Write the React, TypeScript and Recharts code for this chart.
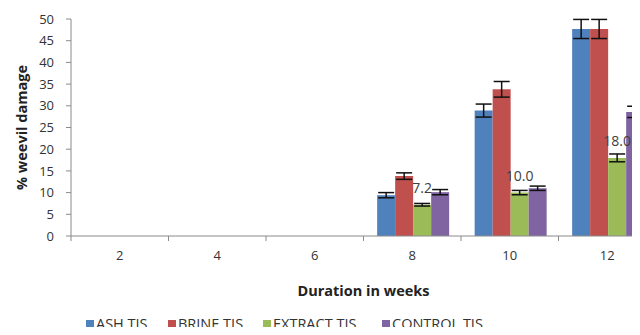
import React from 'react';
import { BarChart, Bar, XAxis, YAxis, ErrorBar, LabelList, Legend } from 'recharts';

const weeks = ['2', '4', '6', '8', '10', '12'];
const ash = [null, null, null, 9.4, 28.9, 47.7];
const brine = [null, null, null, 13.8, 33.8, 47.7];
const extract = [null, null, null, 7.2, 10.0, 18.0];
const control = [null, null, null, 10.1, 11.0, 28.6];
const ashErr = [0, 0, 0, 0.6, 1.5, 2.2];
const brineErr = [0, 0, 0, 0.75, 1.8, 2.2];
const extractErr = [0, 0, 0, 0.3, 0.5, 0.9];
const controlErr = [0, 0, 0, 0.6, 0.5, 1.3];
const yTicks = [0, 5, 10, 15, 20, 25, 30, 35, 40, 45, 50];

const series = [
  { key: 'ash', name: 'ASH TIS', color: '#4F81BD' },
  { key: 'brine', name: 'BRINE TIS', color: '#C0504D' },
  { key: 'extract', name: 'EXTRACT TIS', color: '#9BBB59' },
  { key: 'control', name: 'CONTROL TIS', color: '#8064A2' },
];

const data = weeks.map((w, i) => ({
  week: w,
  ash: ash[i], ashErr: ashErr[i],
  brine: brine[i], brineErr: brineErr[i],
  extract: extract[i], extractErr: extractErr[i],
  control: control[i], controlErr: controlErr[i],
}));

const FONT = '"Open Sans", "Liberation Sans", sans-serif';
const BAND = 97.5;

const WeekTick = (props: any) => {
  const { x, y, payload } = props;
  return (
    <g>
      <line x1={x - BAND / 2} x2={x - BAND / 2} y1={y - 8} y2={y - 3} stroke="#8a8a8a" />
      <text x={x} y={y + 16} textAnchor="middle" fontSize={13} fill="#333" fontFamily={FONT}>
        {payload.value}
      </text>
    </g>
  );
};

// extract values are labelled from the last (control) bar so the text sits above every bar;
// the green bar's top comes from the purple bar's own geometry
const ExtractLabel = (props: any) => {
  const { x, y, width, height, value } = props;
  if (value == null) return null;
  const i = control.indexOf(value);
  const e = i >= 0 ? extract[i] : null;
  if (e == null) return null;
  const base = y + height;
  const top = base - (height * e) / value;
  return (
    <text x={x - width / 2} y={top - 12} textAnchor="middle" fontSize={14} fill="#404040" fontFamily={FONT}>
      {e.toFixed(1)}
    </text>
  );
};

const legendLeft = [86, 168, 263, 382];

const LegendBox = () => (
  <div style={{ position: 'relative', width: 640, height: 30, fontFamily: FONT, fontSize: 14.5, color: '#333', lineHeight: '16px' }}>
    {series.map((s, i) => (
      <div key={s.key} style={{ position: 'absolute', left: legendLeft[i], top: 11, display: 'flex', alignItems: 'center', whiteSpace: 'nowrap' }}>
        <span style={{ width: 8, height: 8, background: s.color, display: 'inline-block', marginRight: 2 }} />
        <span>{s.name}</span>
      </div>
    ))}
  </div>
);

export default function App() {
  return (
    <div style={{ margin: -8, width: 640, height: 335, overflow: 'hidden', background: '#fff', position: 'relative' }}>
      <BarChart
        width={660}
        height={335}
        data={data}
        margin={{ top: 19, right: 4, left: 0, bottom: 0 }}
        barCategoryGap="14%"
        barGap={0}
      >
        <XAxis
          dataKey="week"
          axisLine={{ stroke: '#8a8a8a' }}
          tickLine={false}
          tick={<WeekTick />}
          height={69}
          label={{ value: 'Duration in weeks', position: 'insideBottom', offset: 9, style: { fontFamily: FONT, fontSize: 14.5, fontWeight: 'bold', fill: '#222' } }}
        />
        <YAxis
          domain={[0, 50]}
          ticks={yTicks}
          interval={0}
          width={71}
          axisLine={{ stroke: '#8a8a8a' }}
          tickLine={{ stroke: '#8a8a8a' }}
          tickSize={5}
          tickMargin={12}
          tick={{ fontSize: 13, fill: '#333', fontFamily: FONT }}
          label={{ value: '% weevil damage', angle: -90, position: 'insideLeft', offset: 22, style: { textAnchor: 'middle', fontFamily: FONT, fontSize: 14.5, fontWeight: 'bold', fill: '#222' } }}
        />
        <Legend verticalAlign="bottom" content={<LegendBox />} wrapperStyle={{ left: 0, width: 640, height: 30 }} />
        {series.map((s) => (
          <Bar key={s.key} dataKey={s.key} name={s.name} fill={s.color} isAnimationActive={false}>
            <ErrorBar dataKey={`${s.key}Err`} width={8} stroke="#111" strokeWidth={1.5} direction="y" />
            {s.key === 'control' && <LabelList dataKey="control" content={<ExtractLabel />} />}
          </Bar>
        ))}
      </BarChart>
    </div>
  );
}
